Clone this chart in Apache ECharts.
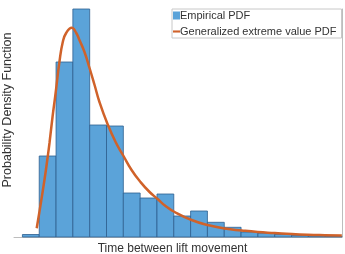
<!DOCTYPE html>
<html>
<head>
<meta charset="utf-8">
<script src="https://cdn.jsdelivr.net/npm/echarts@6/dist/echarts.min.js"></script>
<style>
  html,body{margin:0;padding:0;background:#fff;}
  .main{width:345px;height:254px;}
</style>
</head>
<body>
<div class="main" id="main"></div>
<script>
// histogram: one value per bin (bin i spans i..i+1)
var binHeights = [2.5, 81, 175, 228, 112, 111, 44, 39, 43, 21, 26, 14.7, 9.7, 5, 3.7, 2.5, 1.5, 1, 0.5];
// fitted GEV pdf
var curveX = [0.85, 1.01, 1.31, 1.51, 1.61, 1.79, 1.96, 2.20, 2.40, 2.60, 2.93, 3.20, 3.39, 3.69, 3.99, 4.29, 4.58, 5.06, 5.54, 6.01, 6.49, 7.02, 7.56, 8.04, 8.51, 9.05, 10.06, 11.01, 12.02, 13.04, 13.99, 15.0, 16.01, 16.96, 17.98, 18.99];
var curveY = [8.7, 25, 57, 81, 94, 120, 142, 175, 195, 204, 209.3, 204, 197, 185, 169, 152, 135, 113, 95, 81, 67, 55, 45, 38, 31, 25, 17, 12, 8.5, 6.5, 5, 4, 3, 2.3, 1.8, 1.4];
var seriesNames = ['Empirical PDF', 'Generalized extreme value PDF'];

var binData = [];
for (var i = 0; i < binHeights.length; i++) {
  binData.push([i, binHeights[i]]);
}
var curveData = [];
for (var j = 0; j < curveX.length; j++) {
  curveData.push([curveX[j], curveY[j]]);
}

var myChart = echarts.init(document.getElementById('main'));
var option = {
  animation: false,
  textStyle: {fontFamily: 'Liberation Sans, Arial, sans-serif'},
  grid: {left: 14, right: 3, top: 9, bottom: 17, outerBoundsMode: 'none', containLabel: false},
  legend: {
    left: 172, top: 9,
    orient: 'vertical',
    backgroundColor: '#fff',
    borderColor: '#c8c8c8',
    borderWidth: 1,
    padding: [1, 5, 1, 1],
    itemWidth: 7, itemHeight: 8, itemGap: 5,
    textStyle: {fontSize: 11, color: '#333', padding: [0, 0, 0, -5]},
    data: [
      {name: seriesNames[0], icon: 'rect'},
      {name: seriesNames[1], icon: 'path://M0,0M0,3.5L10,3.5L10,6.5L0,6.5ZM10,10'}
    ]
  },
  xAxis: {
    type: 'value', min: -0.5, max: 19,
    name: 'Time between lift movement',
    nameLocation: 'middle', nameGap: 6,
    nameTextStyle: {fontSize: 12, color: '#333', padding: [0, 11, 0, 0]},
    axisLine: {show: true, lineStyle: {color: '#bdbdbd', width: 1}},
    axisTick: {show: false}, axisLabel: {show: false}, splitLine: {show: false}
  },
  yAxis: [{
    type: 'value', min: 0, max: 228,
    name: 'Probability Density Function',
    nameLocation: 'middle', nameGap: 0,
    nameTextStyle: {fontSize: 12.5, color: '#333', padding: [0, 0, 0, 26]},
    axisLine: {show: false}, axisTick: {show: false}, axisLabel: {show: false}, splitLine: {show: false}
  }, {
    type: 'value', min: 0, max: 228, position: 'right',
    axisLine: {show: true, lineStyle: {color: '#bdbdbd', width: 1}},
    axisTick: {show: false}, axisLabel: {show: false}, splitLine: {show: false}
  }],
  series: [{
    name: seriesNames[0],
    type: 'custom',
    itemStyle: {color: '#5ba3d9'},
    renderItem: function (params, api) {
      var x0 = api.value(0);
      var p0 = api.coord([x0, api.value(1)]);
      var p1 = api.coord([x0 + 1, 0]);
      return {
        type: 'rect',
        shape: {x: p0[0], y: p0[1], width: p1[0] - p0[0], height: p1[1] - p0[1]},
        style: {fill: '#5ba3d9', stroke: '#2f5f8f', lineWidth: 0.8}
      };
    },
    data: binData
  }, {
    name: seriesNames[1],
    type: 'line',
    smooth: true,
    symbol: 'none',
    lineStyle: {color: '#d0622a', width: 2.5},
    itemStyle: {color: '#d0622a'},
    data: curveData
  }]
};
myChart.setOption(option);
</script>
</body>
</html>
